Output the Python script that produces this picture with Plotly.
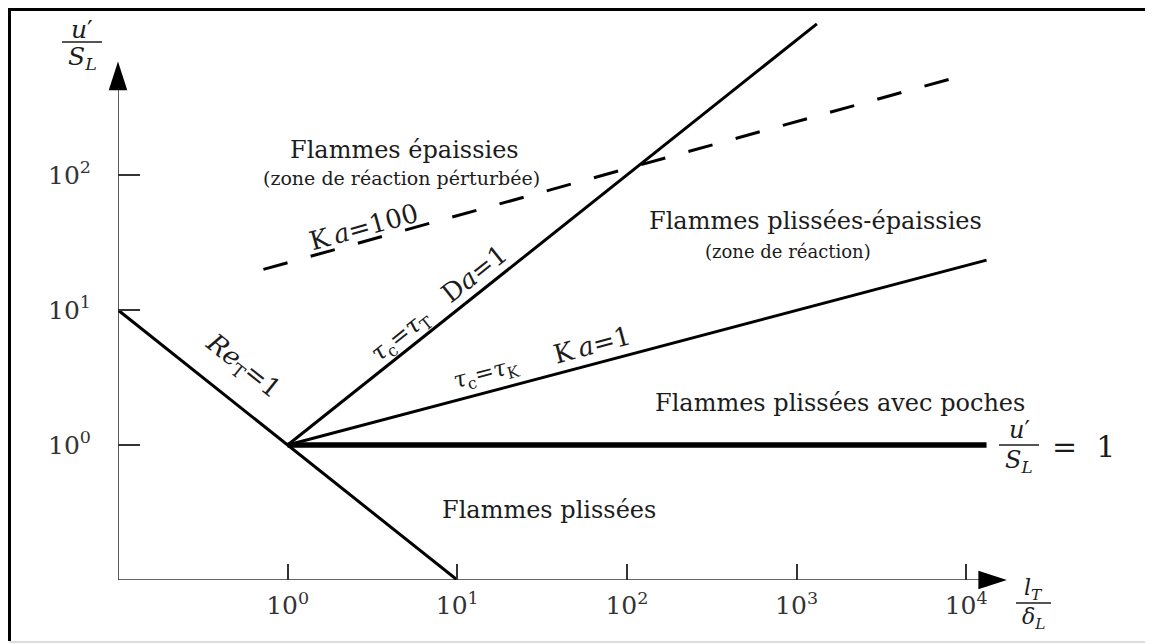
import plotly.graph_objects as go

# ---------------- figure geometry ----------------
W, H = 1153, 644
OFF = 8                       # page offset of the plot div (body margin)
ML, MR, MT, MB = 110, 110, 5, 72
PW = W - ML - MR
PH = H - MT - MB


def px(x):
    """page pixel x -> paper coordinate"""
    return (x - OFF - ML) / PW


def py(y):
    """page pixel y -> paper coordinate"""
    return (H - MB - (y - OFF)) / PH


FONT = "DejaVu Serif"
INK = "#1c1c1c"
AX = "#333333"

# ---------------- data ----------------
axis_origin = [0.1, 0.1]
x_axis_end = 10 ** 4.24
y_axis_end = 10 ** 2.84

x_ticks = [1, 10, 100, 1000, 10000]
x_tick_text = ["10<sup>0</sup>", "10<sup>1</sup>", "10<sup>2</sup>", "10<sup>3</sup>", "10<sup>4</sup>"]
y_ticks = [1, 10, 100]
y_tick_text = ["10<sup>0</sup>", "10<sup>1</sup>", "10<sup>2</sup>"]

# Re_T = 1
re_x = [0.1, 10.0]
re_y = [10.0, 0.1]
# Da = 1  (tau_c = tau_T)
da_x = [1.0, 1318.0]
da_y = [1.0, 1318.0]
# Ka = 1  (tau_c = tau_K)
ka1_x = [1.0, 13183.0]
ka1_y = [1.0, 23.4]
# Ka = 100 (dashed)
ka100_x = [0.72, 9120.0]
ka100_y = [20.0, 537.0]
# u'/S_L = 1
u1_x = [1.0, 13183.0]
u1_y = [1.0, 1.0]

fig = go.Figure()

# axes lines
fig.add_trace(go.Scatter(x=[axis_origin[0], x_axis_end * 0.93], y=[axis_origin[1], axis_origin[1]],
                         mode="lines", line=dict(color=AX, width=1.6), hoverinfo="skip"))
fig.add_trace(go.Scatter(x=[axis_origin[0], axis_origin[0]], y=[axis_origin[1], y_axis_end * 0.9],
                         mode="lines", line=dict(color=AX, width=1.6), hoverinfo="skip"))
# arrow heads
fig.add_trace(go.Scatter(x=[x_axis_end], y=[axis_origin[1]], mode="markers", cliponaxis=False,
                         marker=dict(symbol="arrow", angle=90, size=30, color="black",
                                     line=dict(width=0)), hoverinfo="skip"))
fig.add_trace(go.Scatter(x=[axis_origin[0]], y=[y_axis_end], mode="markers", cliponaxis=False,
                         marker=dict(symbol="arrow", angle=0, size=30, color="black",
                                     line=dict(width=0)), hoverinfo="skip"))

# regime boundaries
for xs, ys, w, dash in [
    (re_x, re_y, 3, "solid"),
    (da_x, da_y, 3, "solid"),
    (ka1_x, ka1_y, 3, "solid"),
    (ka100_x, ka100_y, 3, "25px,24px"),
    (u1_x, u1_y, 5.5, "solid"),
]:
    fig.add_trace(go.Scatter(x=xs, y=ys, mode="lines",
                             line=dict(color="black", width=w, dash=dash), hoverinfo="skip"))

ann = []


def label(text, x, y, size, angle=0, xanchor="center", color=INK):
    ann.append(dict(text=text, x=px(x), y=py(y), xref="paper", yref="paper", showarrow=False,
                    textangle=angle, xanchor=xanchor, yanchor="middle",
                    font=dict(family=FONT, size=size, color=color)))


label("Flammes épaissies", 404, 150, 24)
label("(zone de réaction pérturbée)", 401, 178, 19)
label("K\u2009<i>a</i>=100", 364, 227, 26, angle=-15.4)
label("Flammes plissées-épaissies", 815, 221, 24)
label("(zone de réaction)", 788, 251, 18)
label("<i>τ</i><sub>c</sub>=<i>τ</i><sub>T</sub>", 401, 336, 24, angle=-38.4)
label("D<i>a</i>=1", 474, 274, 26, angle=-38.4)
label("<i>τ</i><sub>c</sub>=<i>τ</i><sub>K</sub>", 486, 374, 23, angle=-14.8)
label("K\u2009<i>a</i>=1", 592, 345, 26, angle=-14.8)
label("<i>Re</i><sub>T</sub>=1", 243, 366, 26, angle=38.4)
label("Flammes plissées avec poches", 840, 403, 24)
label("Flammes plissées", 549, 510, 24)

# fractions
label("<i>u</i>′", 82, 29, 25)
label("<i>S<sub>L</sub></i>", 82, 58, 25)
label("<i>u</i>′", 1019, 430, 24)
label("<i>S<sub>L</sub></i>", 1019, 461, 24)
label("=  1", 1050, 446, 30, xanchor="left")
label("<i>l<sub>T</sub></i>", 1033, 589, 22)
label("<i>δ<sub>L</sub></i>", 1033, 618, 22)

shapes = []


def hbar(x0, x1, y, w=1.4):
    shapes.append(dict(type="line", xref="paper", yref="paper", x0=px(x0), x1=px(x1), y0=py(y), y1=py(y),
                       line=dict(color=INK, width=w)))


hbar(62, 102, 42)
hbar(999, 1039, 445)
hbar(1016, 1051, 603)

# frame of the picture
shapes.append(dict(type="path", xref="paper", yref="paper",
                   path=f"M{px(9.5)},{py(641)} L{px(9.5)},{py(9.5)} L{px(1147)},{py(9.5)} L{px(1147)},{py(641)}",
                   line=dict(color="black", width=3)))
shapes.append(dict(type="line", xref="paper", yref="paper", x0=px(9.5), x1=px(1147), y0=py(642), y1=py(642),
                   line=dict(color="#dddddd", width=2)))

fig.update_layout(
    width=W, height=H, template="none",
    margin=dict(l=ML, r=MR, t=MT, b=MB, autoexpand=False),
    paper_bgcolor="white", plot_bgcolor="white",
    showlegend=False,
    font=dict(family=FONT, color=INK),
    annotations=ann, shapes=shapes,
    xaxis=dict(type="log", range=[-1, 4.5], showgrid=False, zeroline=False, showline=False,
               tickvals=x_ticks, ticktext=x_tick_text, ticks="inside", ticklen=16, tickwidth=1.5,
               tickcolor=AX, tickfont=dict(family=FONT, size=25, color="#333"),
               ticklabelstandoff=8, automargin=False, fixedrange=True),
    yaxis=dict(type="log", range=[-1, 3.2], showgrid=False, zeroline=False, showline=False,
               tickvals=y_ticks, ticktext=y_tick_text, ticks="inside", ticklen=22, tickwidth=1.5,
               tickcolor=AX, tickfont=dict(family=FONT, size=25, color="#333"),
               ticklabelstandoff=26, automargin=False, fixedrange=True),
)

fig.write_html("out.html")
